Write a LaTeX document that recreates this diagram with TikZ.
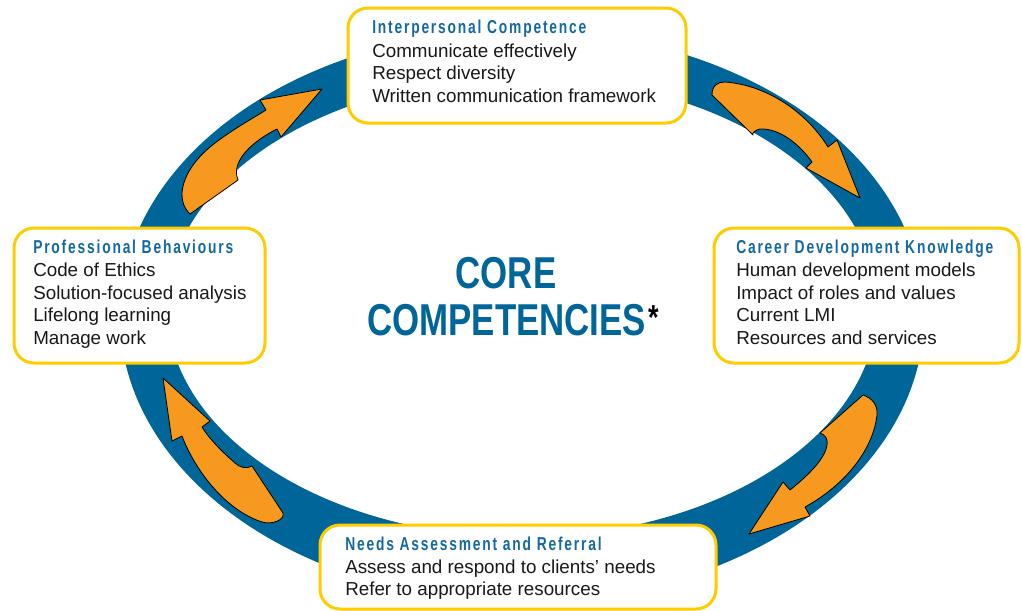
\documentclass[tikz,border=0pt]{standalone}
\usepackage{fontspec}
\setmainfont{Liberation Sans}
\newfontfamily\titlefont[FakeStretch=0.74,LetterSpace=9.7]{Liberation Sans}
\newfontfamily\corefont[FakeStretch=0.78]{Liberation Sans}
\definecolor{ringblue}{RGB}{0,101,152}
\definecolor{titleblue}{RGB}{20,105,160}
\definecolor{boxgold}{RGB}{255,204,0}
\definecolor{arrorange}{RGB}{247,153,30}
\definecolor{textblack}{RGB}{25,25,25}
\begin{document}
\begin{tikzpicture}[x=0.75pt,y=-0.75pt,
  box/.style={draw=boxgold, line width=2.25pt, fill=white, rounded corners=15pt, inner sep=0pt},
  ttl/.style={anchor=base west, inner sep=0pt, font=\titlefont\bfseries\fontsize{14}{16}\selectfont, text=titleblue},
  itm/.style={anchor=base west, inner sep=0pt, font=\fontsize{14.1}{17}\selectfont, text=textblack},
  arr/.style={fill=arrorange, draw=black, line width=0.6pt, line join=round},
  core/.style={inner sep=0pt, font=\corefont\bfseries\fontsize{33.5}{40}\selectfont, text=ringblue}]
\useasboundingbox[fill=white] (0,0) rectangle (1022,611);

% ring
\fill[ringblue, even odd rule] (522,316) ellipse [x radius=301.5pt, y radius=214.5pt]
                                (522,307) ellipse [x radius=266.25pt, y radius=172.5pt];

% arrows
\draw[arr] (322,89) -- (281,137) -- (277,129)
  .. controls (255,140) and (230,160) .. (238,180)
  -- (190,214)
  .. controls (175,200) and (180,170) .. (215,143)
  .. controls (235,128) and (255,117) .. (266,110)
  -- (260,100) -- cycle;
\draw[arr] (712,95) .. controls (712,85) and (718,82) .. (725,82)
  .. controls (765,85) and (805,110) .. (828,147)
  -- (837,140) -- (860,198) -- (806,168) -- (812,162)
  .. controls (800,145) and (780,128) .. (760,129)
  .. controls (755,130) and (752,133) .. (753,135) -- cycle;
\draw[arr] (863,395) .. controls (872,398) and (878,405) .. (877,415)
  .. controls (873,450) and (845,485) .. (805,507)
  -- (810,516) -- (749,534) -- (783,482) -- (790,490)
  .. controls (805,478) and (825,460) .. (827,445)
  .. controls (828,438) and (825,435) .. (820,433) -- cycle;
\draw[arr] (163,378) -- (172,441) -- (182,436)
  .. controls (195,470) and (225,510) .. (262,522)
  .. controls (272,525) and (285,520) .. (283,513)
  -- (252,466)
  .. controls (247,469) and (240,468) .. (235,463)
  .. controls (220,450) and (208,437) .. (202,427)
  -- (210,421) -- cycle;

% boxes
\node[box, minimum width=253.5pt, minimum height=86.25pt] (topbox) at (517,65.5) {};
\node[box, minimum width=188.25pt, minimum height=101.25pt] (leftbox) at (139.5,295.5) {};
\node[box, minimum width=228.75pt, minimum height=101.25pt] (rightbox) at (866.5,295.5) {};
\node[box, minimum width=297pt, minimum height=63pt] (botbox) at (518,567) {};

% top box text
\node[ttl] (t0) at (372,33) {Interpersonal Competence};
\node[itm] (t1) at (372,57) {Communicate effectively};
\node[itm] (t2) at (372,79.5) {Respect diversity};
\node[itm] (t3) at (372,102) {Written communication framework};

% left box text
\node[ttl] (l0) at (33,253) {Professional Behaviours};
\node[itm] (l1) at (33,276) {Code of Ethics};
\node[itm] (l2) at (33,299) {Solution-focused analysis};
\node[itm] (l3) at (33,321.5) {Lifelong learning};
\node[itm] (l4) at (33,344) {Manage work};

% right box text
\node[ttl] (r0) at (736,253) {Career Development Knowledge};
\node[itm] (r1) at (736,276) {Human development models};
\node[itm] (r2) at (736,299) {Impact of roles and values};
\node[itm] (r3) at (736,321.5) {Current LMI};
\node[itm] (r4) at (736,344) {Resources and services};

% bottom box text
\node[ttl] (b0) at (345,550) {Needs Assessment and Referral};
\node[itm] (b1) at (345,573) {Assess and respond to clients’ needs};
\node[itm] (b2) at (345,595) {Refer to appropriate resources};

% center
\node[core, anchor=base] (core1) at (506,288) {CORE};
\node[core, anchor=base west] (core2) at (367,335) {COMPETENCIES\kern2pt{\color{black}\raisebox{4pt}{\fontsize{26}{26}\selectfont *}}};
\end{tikzpicture}
\end{document}
